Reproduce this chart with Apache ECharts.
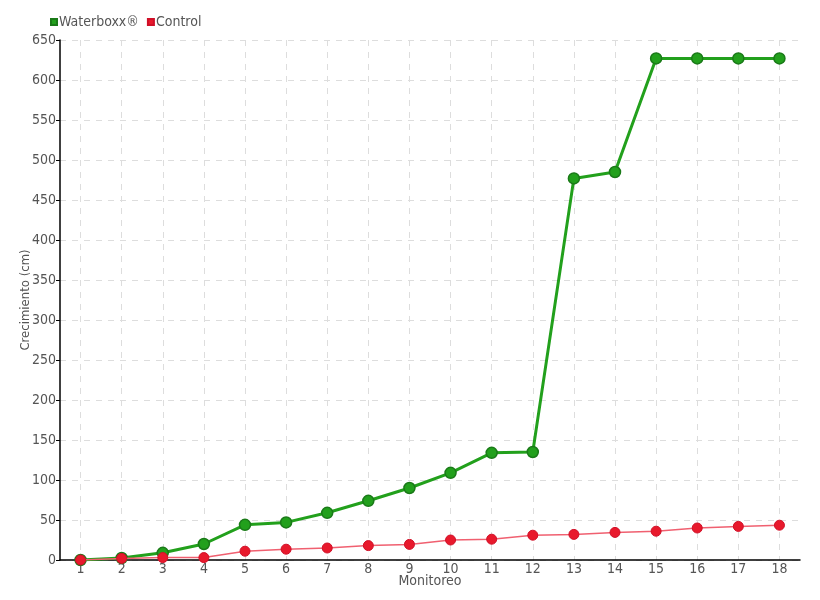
<!DOCTYPE html>
<html><head><meta charset="utf-8">
<script src="https://cdn.jsdelivr.net/npm/echarts@6/dist/echarts.min.js"></script>
<style>html,body{margin:0;padding:0;background:#fff}#c{width:820px;height:600px}</style>
</head><body><div id="c"></div>
<script>
const categories = ['1','2','3','4','5','6','7','8','9','10','11','12','13','14','15','16','17','18'];
const waterboxx = [0, 2.5, 9, 20, 44, 47, 59, 74, 90, 109, 134, 135, 477, 485, 627, 627, 627, 627];
const control = [0, 2, 3, 3, 11, 13.5, 15, 18, 19.5, 25, 26, 31, 32, 34.5, 36, 40, 42, 43.5];
const seriesNames = ['Waterboxx®', 'Control'];
const yTicks = {min: 0, max: 650, interval: 50};

const font = '"DejaVu Sans Condensed","DejaVu Sans",sans-serif';
const chart = echarts.init(document.getElementById('c'));
chart.setOption({
  animation: false,
  textStyle: {fontFamily: font},
  legend: {
    left: 45, top: 10, itemWidth: 6, itemHeight: 6, itemGap: 8,
    icon: 'rect',
    textStyle: {fontFamily: font, fontSize: 14, color: '#555', padding: [0,0,0,-3]},
    data: seriesNames
  },
  grid: {left: 60, right: 20, top: 40, bottom: 40, outerBoundsMode: 'none', containLabel: false},
  xAxis: {
    type: 'category', data: categories, boundaryGap: true,
    name: 'Monitoreo', nameLocation: 'middle', nameGap: 14, nameMoveOverlap: false,
    nameTextStyle: {fontFamily: font, fontSize: 14, color: '#555'},
    axisLine: {lineStyle: {color: '#000', width: 1.5}},
    axisTick: {alignWithLabel: true, length: 5, lineStyle: {color: '#000'}},
    axisLabel: {fontFamily: font, fontSize: 14, color: '#555', margin: 2},
    splitLine: {show: true, alignWithLabel: true, lineStyle: {type: [6,6], color: '#ddd'}}
  },
  yAxis: {
    type: 'value', min: yTicks.min, max: yTicks.max, interval: yTicks.interval,
    name: 'Crecimiento (cm)', nameLocation: 'middle', nameGap: 28, nameMoveOverlap: false,
    nameTextStyle: {fontFamily: font, fontSize: 13, color: '#555'},
    axisLine: {show: true, lineStyle: {color: '#000', width: 1.5}},
    axisTick: {show: true, length: 4, lineStyle: {color: '#000'}},
    axisLabel: {fontFamily: font, fontSize: 14, color: '#555', margin: 4},
    splitLine: {show: true, lineStyle: {type: [6,6], color: '#ddd'}}
  },
  series: [
    {
      name: seriesNames[0], type: 'line', data: waterboxx,
      symbol: 'circle', symbolSize: 11, z: 3,
      itemStyle: {color: '#22a01c', borderColor: '#1a7a18', borderWidth: 1.5},
      lineStyle: {color: '#22a01c', width: 3}
    },
    {
      name: seriesNames[1], type: 'line', data: control,
      symbol: 'circle', symbolSize: 10, z: 4,
      itemStyle: {color: '#e8192c', borderColor: '#d01028', borderWidth: 1},
      lineStyle: {color: '#f06070', width: 1.5}
    }
  ]
});
</script></body></html>
